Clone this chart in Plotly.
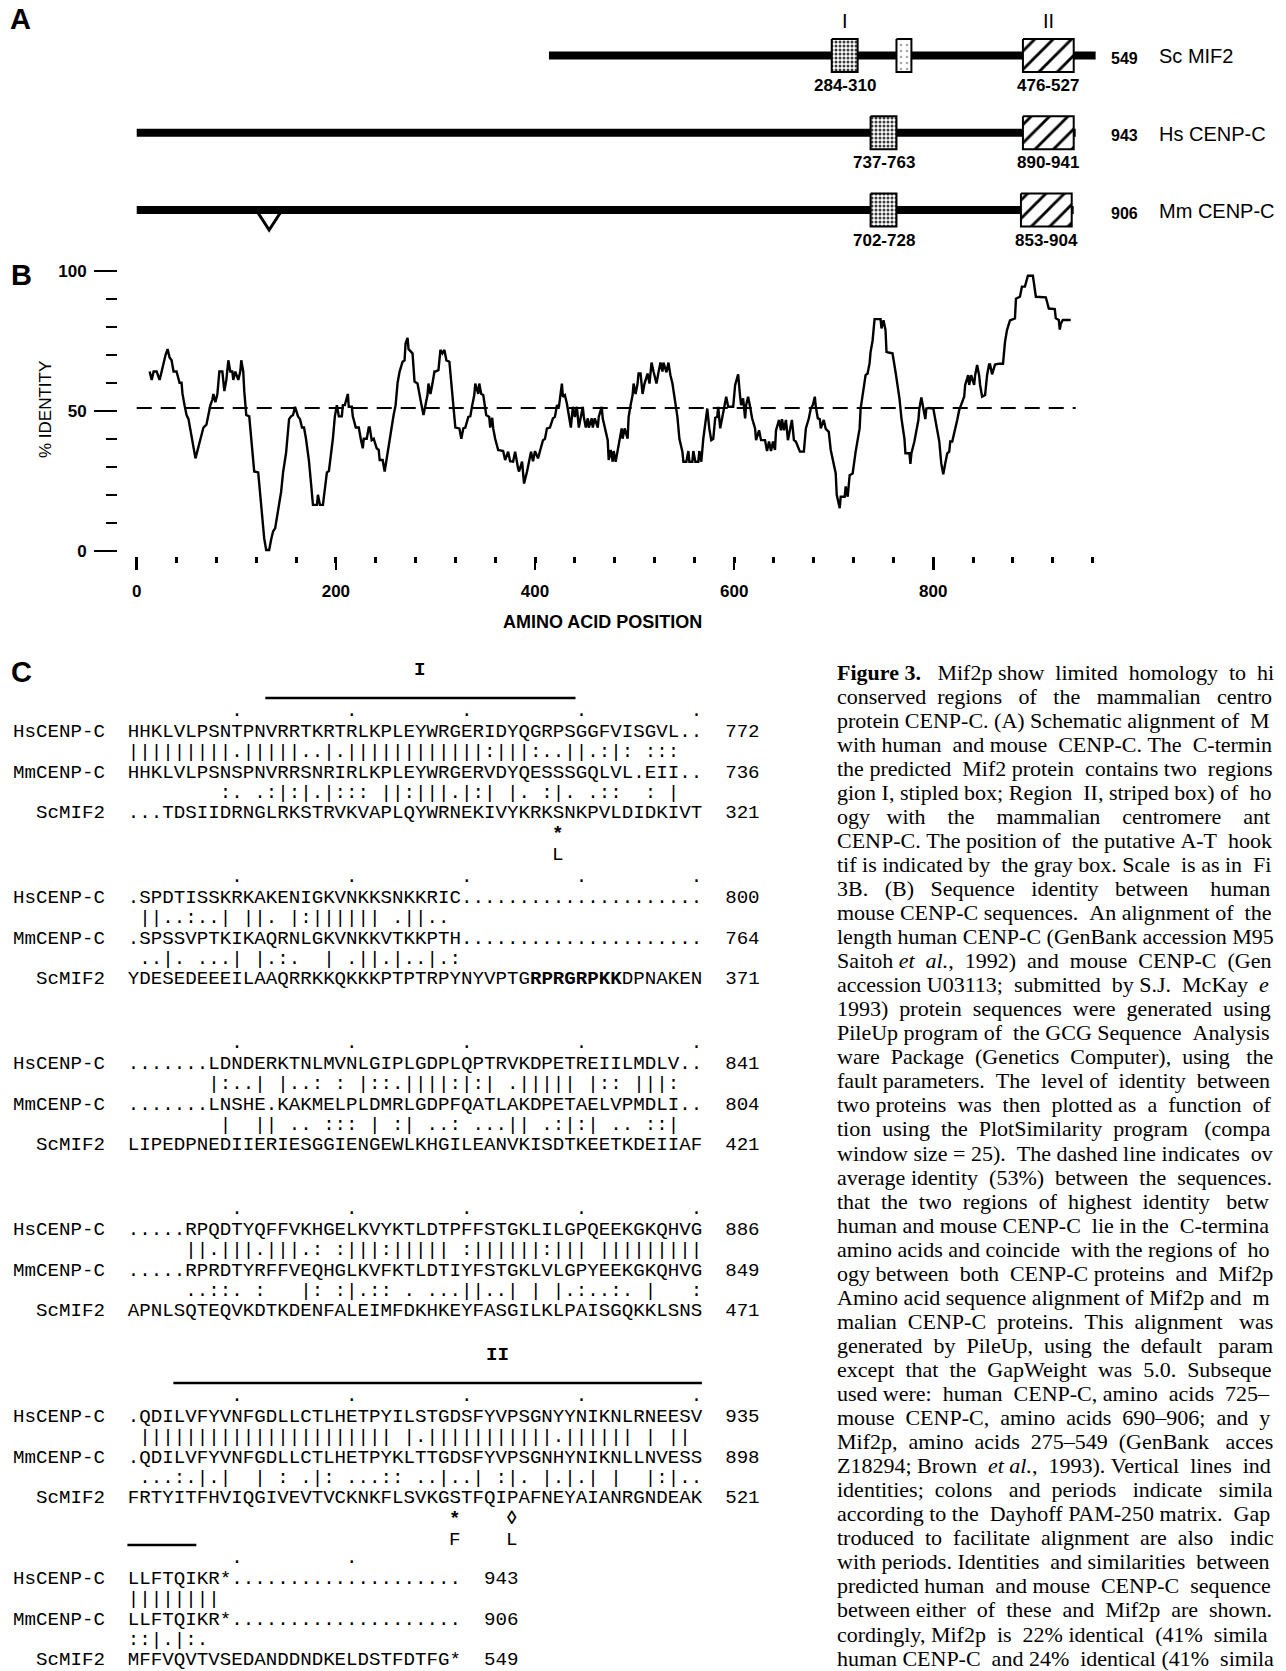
import re
import plotly.graph_objects as go

W, H = 1286, 1671

# ---------------- Panel A: schematic data ----------------
proteins = ["Sc MIF2", "Hs CENP-C", "Mm CENP-C"]
protein_lengths = [549, 943, 906]
protein_offsets = [414, 0, 35]          # shift onto the common (human) scale
backbone_starts = [414, 0, 0]
region1 = [(284, 310), (737, 763), (702, 728)]
region2 = [(476, 527), (890, 941), (853, 904)]
at_hook = (349, 364)                    # Sc MIF2 A-T hook (gray box)
mm_gap = (120, 146)                     # mouse deletion (V) on common scale

# ---------------- Panel B: identity profile ----------------
aa_position = [13, 15, 17, 20, 23, 25, 27, 29, 31, 33, 35, 37, 40, 43, 45, 46, 48, 50, 52, 54, 57, 59, 61, 63, 65,
               67, 70, 72, 74, 76, 77, 79, 81, 82, 83, 86, 88, 90, 92, 94, 96, 97, 99, 102, 104, 105, 107, 108, 110,
               113, 115, 118, 122, 125, 128, 130, 133, 135, 137, 139, 142, 145, 147, 150, 153, 155, 157, 159, 162,
               164, 166, 168, 170, 173, 177, 181, 182, 184, 187, 191, 193, 197, 199, 201, 203, 206, 207, 209, 212,
               213, 216, 217, 220, 223, 225, 227, 228, 231, 233, 234, 236, 238, 241, 243, 244, 247, 249, 251, 253,
               256, 258, 260, 262, 264, 267, 269, 270, 272, 273, 277, 279, 282, 284, 286, 288, 290, 292, 293, 295,
               297, 299, 300, 303, 305, 307, 309, 311, 314, 316, 318, 320, 324, 326, 328, 330, 333, 335, 337, 339,
               340, 343, 344, 346, 348, 351, 354, 355, 357, 358, 360, 363, 368, 370, 373, 375, 378, 380, 383, 384,
               387, 389, 392, 394, 396, 398, 400, 403, 405, 408, 410, 412, 415, 418, 420, 422, 424, 426, 427, 428,
               430, 432, 434, 436, 438, 440, 442, 444, 446, 448, 449, 451, 453, 454, 457, 458, 460, 463, 464, 467,
               468, 470, 473, 474, 476, 478, 479, 481, 483, 485, 487, 488, 490, 493, 494, 496, 498, 499, 501, 503,
               504, 506, 508, 510, 513, 515, 517, 519, 522, 524, 526, 528, 529, 532, 534, 536, 538, 540, 543, 545,
               548, 549, 552, 554, 555, 558, 559, 561, 564, 565, 567, 569, 572, 573, 575, 577, 579, 581, 583, 584,
               586, 588, 590, 592, 594, 599, 601, 604, 606, 607, 609, 611, 612, 614, 616, 618, 621, 622, 625, 627,
               631, 633, 635, 637, 639, 641, 642, 645, 647, 648, 650, 652, 654, 656, 658, 660, 662, 666, 670, 672,
               675, 677, 679, 681, 682, 684, 686, 687, 690, 692, 695, 697, 700, 702, 703, 706, 707, 711, 712, 714,
               716, 719, 722, 724, 726, 727, 729, 731, 732, 734, 736, 737, 739, 741, 744, 747, 748, 750, 752, 753,
               755, 759, 762, 764, 766, 768, 771, 772, 776, 777, 778, 781, 783, 785, 786, 788, 790, 792, 793, 796,
               800, 802, 804, 806, 808, 810, 812, 814, 816, 817, 819, 822, 824, 826, 828, 831, 832, 835, 836, 838,
               841, 842, 844, 846, 847, 849, 852, 854, 856, 857, 859, 862, 866, 870, 872, 874, 877, 882, 883, 887,
               889, 892, 895, 900, 903, 908, 913, 916, 918, 922, 923, 926, 927, 928, 930, 938]
pct_identity = [64, 61, 64, 64, 61, 64, 68, 70, 72, 69, 68, 64, 64, 60, 60, 56, 52, 48.5, 47, 42.5, 37, 33, 36, 39, 41,
                44, 45, 48.5, 52, 54, 56, 53, 56, 60, 64, 64, 57, 61, 68, 64, 64, 61, 64, 61, 64, 68, 64, 57, 48.5,
                48, 40, 28.3, 28, 16.4, 4.5, 0.3, 0.3, 4, 7, 8, 14, 21, 28, 35, 47, 48, 48.5, 51.4, 48,
                47, 44, 44, 40, 32, 16.4, 16.4, 20, 16.4, 16.4, 28, 28.5, 40, 48, 52, 48, 48, 52, 52, 56,
                51.4, 51.4, 48, 44, 44, 40, 36.6, 40, 40, 44, 44, 39.5, 40, 36.6, 36, 32.4, 32.4, 28.3, 33, 36.6,
                44, 48.5, 52, 60, 64, 67.5, 68, 74, 76, 72, 70.5, 60.4, 59.7, 55, 52, 48.5, 52, 55.6, 59.7, 56,
                59.7, 64, 64, 64.5, 71.7, 70.5, 71.7, 68, 67.5, 60.4, 52, 44, 43.7, 40, 43.7, 44, 47.8, 48, 52, 55.6,
                59.7, 56, 59.7, 56, 55.6, 48.5, 47.8, 44, 47.5, 43.7, 40, 36, 35.6, 32.4, 35.4, 32, 31.8, 35.4, 29.4, 28.3,
                31.8, 24, 28.3, 32.4, 35.4, 32, 35.6, 33, 35.6, 39.5, 40, 43.7, 44, 47.3, 47.8, 52, 51.4, 56, 59.7, 55,
                55.6, 52.6, 47.8, 44, 51.4, 47.8, 51.4, 44, 47.8, 51.4, 47.8, 44, 47.3, 44, 47.3, 44, 47.3, 44, 47.8, 51.4,
                47.3, 43.7, 39.5, 32.4, 36, 31.8, 35.6, 31.8, 36, 39.5, 43.7, 40, 43.7, 40, 47.8, 52, 55.6, 59.7, 56, 59.7,
                63.3, 63.3, 56, 59.7, 63.3, 59.7, 67.2, 64, 59.7, 63.7, 67.2, 64, 67.2, 63.7, 67.2, 62.7, 59.7, 55, 47.8, 40,
                35.4, 31.8, 31.8, 35.6, 31.8, 31.8, 35.6, 31.8, 31.8, 35.6, 31.8, 40, 47.8, 50.8, 43.7, 39.5, 40, 47.5, 47.8, 51.4,
                43.7, 47.8, 52, 55, 51.4, 51.4, 59.2, 63, 55, 52, 54.4, 47.3, 52, 55, 51.4, 47.3, 43.7, 39.5, 43, 39.5,
                39.5, 35.6, 39, 35.6, 39, 36, 43, 46.7, 43, 47, 43, 46.7, 39.5, 43, 46.7, 39.5, 39, 35.4, 35.4, 43.7,
                47.3, 50.8, 52, 55, 51.4, 47.3, 47, 43.7, 46.7, 43.5, 42.5, 36, 30.6, 27.6, 20, 15.2, 19.3, 19.3, 23, 19.3,
                27, 27.6, 35.4, 40, 43.7, 50.8, 55, 59.2, 62.7, 63.3, 67, 71, 75, 82.7, 82.7, 82.7, 79.4, 82.3, 78.8, 71,
                70.8, 70.5, 64, 59.2, 54.4, 47.3, 40, 34.8, 34.8, 31, 34.8, 39, 43, 46.7, 50.8, 54.7, 50.8, 47, 50.8, 51,
                50.8, 46.7, 43, 39, 31.2, 27.3, 31.2, 34.8, 35.4, 39, 39, 43, 46.7, 50.2, 52, 55, 59.2, 62.7, 59.2, 62.7,
                59.2, 62.7, 66.3, 62.7, 59.2, 55, 55.6, 62.7, 66.5, 66.5, 63, 66.5, 66.8, 66.8, 74.6, 78.8, 82.3, 83, 90, 90.7,
                94.3, 94.3, 98.2, 98.2, 90.7, 90.5, 90.5, 86.5, 86.5, 86.3, 83, 82.4, 79, 81, 82.4, 82.4]
avg_identity = 51
x_major_ticks = [0, 200, 400, 600, 800]
y_tick_labels = [0, 50, 100]

# ---------------- Panel C: alignment ----------------
seq_names = ["HsCENP-C", "MmCENP-C", "ScMIF2"]
hs_blocks = ["HHKLVLPSNTPNVRRTKRTRLKPLEYWRGERIDYQGRPSGGFVISGVL..",
             ".SPDTISSKRKAKENIGKVNKKSNKKRIC" + "." * 21,
             ".......LDNDERKTNLMVNLGIPLGDPLQPTRVKDPETREIILMDLV..",
             ".....RPQDTYQFFVKHGELKVYKTLDTPFFSTGKLILGPQEEKGKQHVG",
             ".QDILVFYVNFGDLLCTLHETPYILSTGDSFYVPSGNYYNIKNLRNEESV",
             "LLFTQIKR*" + "." * 20]
mm_blocks = ["HHKLVLPSNSPNVRRSNRIRLKPLEYWRGERVDYQESSSGQLVL.EII..",
             ".SPSSVPTKIKAQRNLGKVNKKVTKKPTH" + "." * 21,
             ".......LNSHE.KAKMELPLDMRLGDPFQATLAKDPETAELVPMDLI..",
             ".....RPRDTYRFFVEQHGLKVFKTLDTIYFSTGKLVLGPYEEKGKQHVG",
             ".QDILVFYVNFGDLLCTLHETPYKLTTGDSFYVPSGNHYNIKNLLNVESS",
             "LLFTQIKR*" + "." * 20]
sc_blocks = ["...TDSIIDRNGLRKSTRVKVAPLQYWRNEKIVYKRKSNKPVLDIDKIVT",
             "YDESEDEEEILAAQRRKKQKKKPTPTRPYNYVPTGRPRGRPKKDPNAKEN",
             "LIPEDPNEDIIERIESGGIENGEWLKHGILEANVKISDTKEETKDEIIAF",
             "APNLSQTEQVKDTKDENFALEIMFDKHKEYFASGILKLPAISGQKKLSNS",
             "FRTYITFHVIQGIVEVTVCKNKFLSVKGSTFQIPAFNEYAIANRGNDEAK",
             "MFFVQVTVSEDANDDNDKELDSTFDTFG*"]
hs_ends = [772, 800, 841, 886, 935, 943]
mm_ends = [736, 764, 804, 849, 898, 906]
sc_ends = [321, 371, 421, 471, 521, 549]
hs_mm_match = [
    "|||||||||" + "." + "|||||" + ".." + "|" + "." + "||||||||||||" + ":" + "|||" + ":" + ".." + "||" + "." + ":" + "|" + ":" + " " + ":::",
    " " + "||" + ".." + ":" + ".." + "|" + " " + "||" + "." + " " + "|" + ":" + "||||||" + " " + "." + "||" + "..",
    "       " + "|" + ":" + ".." + "|" + " " + "|" + ".." + ":" + " " + ":" + " " + "|" + "::" + "." + "||||" + ":" + "|" + ":" + "|" + " " + "." + "|||||" + " " + "|" + "::" + " " + "|||" + ":",
    "     " + "||" + "." + "|||" + "." + "|||" + "." + ":" + " " + ":" + "|||" + ":" + "|||||" + " " + ":" + "||||||" + ":" + "|||" + " " + "|||||||||",
    " " + "||||||||||||||||||||||" + " " + "|" + "." + "|||||||||||" + "." + "||||||" + " " + "|" + " " + "||",
    "||||||||"]
mm_sc_match = [
    "        " + ":." + " " + ".:|:|.|:::" + " " + "||:|||.|:|" + " " + "|." + " " + ":|." + " " + ".::" + "  " + ":" + " " + "|",
    " " + "..|." + " " + "...|" + " " + "|.:." + "  " + "|" + " " + ".||.|..|.:",
    "        " + "|" + "  " + "||" + " " + ".." + " " + ":::" + " " + "|" + " " + ":|" + " " + "..:" + " " + "...||" + " " + ".:|:|" + " " + ".." + " " + "::|",
    "     " + "..::." + " " + ":" + "   " + "|:" + " " + ":|.::" + " " + "." + " " + "...||..|" + " " + "|" + " " + "|.:..:." + " " + "|" + "   " + ":",
    " " + "...:.|.|" + "  " + "|" + " " + ":" + " " + ".|:" + " " + "...::" + " " + "..|..|" + " " + ":|." + " " + "|.|.|" + " " + "|" + "  " + "|:|..",
    "::|.|:."]
at_hook_motif = "RPRGRPKK"
hs_regions = [("I", 737, 763), ("II", 890, 941)]
sc_mutations = [(309, "*", "L"), (500, "*", "F"), (505, "\u25ca", "L")]

for blk in hs_blocks[:5] + mm_blocks[:5] + sc_blocks[:5]:
    assert len(blk) == 50, blk

# ---------------- Figure legend text ----------------
legend_lines = [
    "<b>Figure\u00a03.</b>\u00a0\u00a0\u00a0Mif2p show limited homology to hi",
    "conserved regions of the mammalian centro",
    "protein CENP-C. (A) Schematic alignment of M",
    "with human and mouse CENP-C. The C-termin",
    "the predicted Mif2 protein contains two regions",
    "gion I, stipled box; Region II, striped box) of ho",
    "ogy with the mammalian centromere ant",
    "CENP-C. The position of the putative A-T hook",
    "tif is indicated by the gray box. Scale is as in Fi",
    "3B. (B) Sequence identity between human",
    "mouse CENP-C sequences. An alignment of the",
    "length human CENP-C (GenBank accession M95",
    "Saitoh <i>et al.</i>, 1992) and mouse CENP-C (Gen",
    "accession U03113; submitted by S.J. McKay <i>e</i>",
    "1993) protein sequences were generated using",
    "PileUp program of the GCG Sequence Analysis",
    "ware Package (Genetics Computer), using the",
    "fault parameters. The level of identity between",
    "two proteins was then plotted as a function of",
    "tion using the PlotSimilarity program (compa",
    "window size = 25). The dashed line indicates ov",
    "average identity (53%) between the sequences.",
    "that the two regions of highest identity betw",
    "human and mouse CENP-C lie in the C-termina",
    "amino acids and coincide with the regions of ho",
    "ogy between both CENP-C proteins and Mif2p",
    "Amino acid sequence alignment of Mif2p and m",
    "malian CENP-C proteins. This alignment was",
    "generated by PileUp, using the default param",
    "except that the GapWeight was 5.0. Subseque",
    "used were: human CENP-C, amino acids 725\u2013",
    "mouse CENP-C, amino acids 690\u2013906; and y",
    "Mif2p, amino acids 275\u2013549 (GenBank acces",
    "Z18294; Brown <i>et al.</i>, 1993). Vertical lines ind",
    "identities; colons and periods indicate simila",
    "according to the Dayhoff PAM-250 matrix. Gap",
    "troduced to facilitate alignment are also indic",
    "with periods. Identities and similarities between",
    "predicted human and mouse CENP-C sequence",
    "between either of these and Mif2p are shown.",
    "cordingly, Mif2p is 22% identical (41% simila",
    "human CENP-C and 24% identical (41% simila",
]

# =====================================================================
SANS = "Liberation Sans"
MONO = "Liberation Mono"
SERIF = "Liberation Serif"
CW = 11.49                 # monospace character pitch (px)
MONO_SIZE = CW / 0.6
TEXT_X0 = 12.5
SEQ_X0 = TEXT_X0 + 10 * CW


def px(x):
    return x / W


def py(y):
    return 1 - y / H


fig = go.Figure()
ann = []
shapes = []


def add_text(text, x, y, size, family=SANS, xanchor="center", weight="normal", angle=0, yanchor="middle"):
    ann.append(dict(text=text, x=px(x), y=py(y), xref="paper", yref="paper", xanchor=xanchor, yanchor=yanchor,
                    showarrow=False, textangle=angle, borderpad=0, borderwidth=0,
                    font=dict(family=family, size=size, color="black", weight=weight)))


# ---------------- Panel A ----------------
ROW_A = 77.3               # px between schematic rows
ROW_A_TOP = 55.4           # px position of the first row
BOX_H = 16.5 / ROW_A
for i, name in enumerate(proteins):
    off = protein_offsets[i]
    fig.add_trace(go.Scatter(x=[backbone_starts[i], off + protein_lengths[i]], y=[i, i], mode="lines",
                             line=dict(color="black", width=8), xaxis="x2", yaxis="y2",
                             hoverinfo="skip", showlegend=False))
# mouse deletion V
fig.add_trace(go.Scatter(x=[mm_gap[0], (mm_gap[0] + mm_gap[1]) / 2, mm_gap[1]], y=[2, 2.26, 2], mode="lines",
                         line=dict(color="black", width=3), xaxis="x2", yaxis="y2", hoverinfo="skip",
                         showlegend=False))


def add_box(a, b, row, pattern):
    fig.add_trace(go.Scatter(x=[a, b, b, a, a], y=[row - BOX_H, row - BOX_H, row + BOX_H, row + BOX_H, row - BOX_H],
                             mode="lines", fill="toself", fillcolor="white", fillpattern=pattern,
                             line=dict(color="black", width=2), xaxis="x2", yaxis="y2",
                             hoverinfo="skip", showlegend=False))


stipple = dict(shape=".", fgcolor="#3a3a3a", bgcolor="white", size=4, solidity=0.45)
stripes = dict(shape="/", fgcolor="black", bgcolor="white", size=13, solidity=0.22)
light = dict(shape=".", fgcolor="#aaaaaa", bgcolor="white", size=6, solidity=0.15)

for i, name in enumerate(proteins):
    off = protein_offsets[i]
    r1 = (region1[i][0] + off, region1[i][1] + off)
    r2 = (region2[i][0] + off, region2[i][1] + off)
    add_box(*r1, i, stipple)
    add_box(*r2, i, stripes)
    for (a, b), (ra, rb) in [(r1, region1[i]), (r2, region2[i])]:
        ann.append(dict(text=f"{ra}-{rb}", x=(a + b) / 2, y=i, xref="x2", yref="y2", yshift=-30,
                        showarrow=False, xanchor="center", yanchor="middle",
                        font=dict(family=SANS, size=17, color="black", weight="bold")))
    if i == 0:
        add_box(at_hook[0] + off, at_hook[1] + off, i, light)
        for lab, (a, b) in [("I", r1), ("II", r2)]:
            ann.append(dict(text=lab, x=(a + b) / 2, y=i, xref="x2", yref="y2", yshift=34, showarrow=False,
                            xanchor="center", yanchor="middle", font=dict(family=SANS, size=20, color="black")))
    ann.append(dict(text=str(protein_lengths[i]), x=px(1124), y=i, xref="paper", yref="y2", yshift=-3,
                    showarrow=False, xanchor="center", yanchor="middle",
                    font=dict(family=SANS, size=16, color="black", weight="bold")))
    ann.append(dict(text=name, x=px(1157), y=i, xref="paper", yref="y2", yshift=-1, showarrow=False,
                    xanchor="left", yanchor="middle", font=dict(family=SANS, size=20, color="black")))

# ---------------- Panel B ----------------
fig.add_trace(go.Scatter(x=aa_position, y=pct_identity, mode="lines", line=dict(color="black", width=2.4),
                         xaxis="x", yaxis="y", hoverinfo="skip", showlegend=False))
fig.add_trace(go.Scatter(x=[0, protein_lengths[1]], y=[avg_identity, avg_identity], mode="lines",
                         line=dict(color="black", width=2, dash="15px,9px"), xaxis="x", yaxis="y",
                         hoverinfo="skip", showlegend=False))

add_text("% IDENTITY", 45, 410, 17, angle=-90)
add_text("AMINO ACID POSITION", 602, 622, 18, weight="bold")

# panel letters
add_text("A", 20, 19, 29, weight="bold")
add_text("B", 21, 275, 29, weight="bold")
add_text("C", 21, 672, 29, weight="bold")

# ---------------- Panel C ----------------
block_y = [731, 897, 1063, 1229, 1416, 1578]
ROW = 20.3


def mono(text, x, y, xanchor="left", bold=False):
    ann.append(dict(text=text.replace(" ", "\u00a0"), x=px(x), y=py(y + 1), xref="paper", yref="paper",
                    xanchor=xanchor, yanchor="middle", showarrow=False, borderpad=0, borderwidth=0,
                    font=dict(family=MONO, size=MONO_SIZE, color="black", weight="bold" if bold else "normal")))


def residue_col(blocks, ends, res):
    for b, (seq, end) in enumerate(zip(blocks, ends)):
        n = sum(ch.isalpha() for ch in seq)
        start = end - n + 1
        if start <= res <= end:
            k = -1
            for c, ch in enumerate(seq):
                if ch.isalpha():
                    k += 1
                    if k == res - start:
                        return b, c
    return None


for b in range(6):
    y0 = block_y[b]
    hs, mm, sc = hs_blocks[b], mm_blocks[b], sc_blocks[b]
    L = len(hs)
    dots = "".join("." if (c % 10 == 9) else " " for c in range(L)).rstrip()
    mono(" " * 10 + dots, TEXT_X0, y0 - 21.3)
    sc_txt = sc.replace(at_hook_motif, "<b>" + at_hook_motif + "</b>")
    rows = [(seq_names[0], hs, hs_ends[b]), (None, hs_mm_match[b], None), (seq_names[1], mm, mm_ends[b]),
            (None, mm_sc_match[b], None), (seq_names[2], sc_txt, sc_ends[b])]
    for k, (nm, s, num) in enumerate(rows):
        if nm is None:
            line = " " * 10 + s
        else:
            line = nm.rjust(8) + "  " + s + "  " + str(num)
        mono(line, TEXT_X0, y0 + k * ROW)

# mutation markers
for res, mark, aa in sc_mutations:
    b, c = residue_col(sc_blocks, sc_ends, res)
    xc = SEQ_X0 + (c + 0.5) * CW
    mono(mark, xc, block_y[b] + 4 * ROW + 20.5, xanchor="center", bold=True)
    mono(aa, xc, block_y[b] + 4 * ROW + 42, xanchor="center")

# region overlines
label_col = {"I": 25.5, "II": 32.2}
for lab, r0, r1 in hs_regions:
    b0, c0 = residue_col(hs_blocks, hs_ends, r0)
    b1, c1 = residue_col(hs_blocks, hs_ends, r1)
    for b in range(b0, b1 + 1):
        alpha = [c for c, ch in enumerate(hs_blocks[b]) if ch.isalpha()]
        cs = c0 if b == b0 else alpha[0]
        ce = c1 if b == b1 else alpha[-1]
        yl = block_y[b] - 33
        shapes.append(dict(type="line", xref="paper", yref="paper", x0=px(SEQ_X0 + cs * CW),
                           x1=px(SEQ_X0 + (ce + 1) * CW), y0=py(yl), y1=py(yl),
                           line=dict(color="black", width=2.5)))
    mono(lab, SEQ_X0 + label_col[lab] * CW, block_y[b0] - 62, xanchor="center", bold=True)

# ---------------- Legend text (justified) ----------------
TW = {" ": 250, "\u00a0": 250, "!": 333, "%": 833, "(": 333, ")": 333, "*": 500, ",": 250, "-": 333, ".": 250,
      "/": 278, ":": 278, ";": 278, "=": 564, "\u2013": 500}
TW.update({d: 500 for d in "0123456789"})
TW.update(dict(zip("ABCDEFGHIJKLMNOPQRSTUVWXYZ",
                   [722, 667, 667, 722, 611, 556, 722, 722, 333, 389, 722, 611, 889, 722, 722, 556, 722, 667, 556,
                    611, 722, 722, 944, 722, 722, 611])))
TW.update(dict(zip("abcdefghijklmnopqrstuvwxyz",
                   [444, 500, 444, 500, 444, 333, 500, 500, 278, 278, 500, 278, 778, 500, 500, 500, 500, 333, 389,
                    278, 500, 500, 722, 500, 500, 444])))
LEG_SIZE = 22
LEG_X0 = 837
LEG_END = 1274


def justify(line):
    plain = re.sub("<[^>]+>", "", line)
    natural = sum(TW.get(ch, 500) for ch in plain) / 1000 * LEG_SIZE
    words = line.split(" ")
    gaps = len(words) - 1
    if gaps == 0:
        return line
    sp = 0.25 * LEG_SIZE
    extra = max(0, int((LEG_END - LEG_X0 - natural) / sp))
    out = words[0]
    for g in range(gaps):
        n = 1 + (extra * (g + 1)) // gaps - (extra * g) // gaps
        out += "\u00a0" * n + words[g + 1]
    return out


for i, line in enumerate(legend_lines):
    add_text(justify(line), LEG_X0, 672 + i * 24.05, LEG_SIZE, family=SERIF, xanchor="left")

# ---------------- Layout ----------------
x_dom = [px(118), px(1100)]
x_rng = [-18.8, 967.4]
ya2_top = -ROW_A_TOP / ROW_A
ya2_bot = (250 - ROW_A_TOP) / ROW_A
fig.update_layout(
    width=W, height=H, margin=dict(l=0, r=0, t=0, b=0), template="none",
    paper_bgcolor="white", plot_bgcolor="white", showlegend=False, hovermode=False,
    xaxis=dict(domain=x_dom, range=x_rng, anchor="y", showgrid=False, zeroline=False, showline=False,
               tickmode="array", tickvals=x_major_ticks, ticktext=[str(v) for v in x_major_ticks],
               ticks="outside", ticklen=13, tickwidth=2.5, tickcolor="black", ticklabelstandoff=7,
               minor=dict(tickmode="linear", tick0=0, dtick=40, ticks="outside", ticklen=6, tickwidth=3,
                          tickcolor="black", showgrid=False),
               tickfont=dict(family=SANS, size=17, color="black", weight="bold")),
    yaxis=dict(domain=[py(556), py(269.3)], range=[-1.86, 100.5], anchor="x", showgrid=False, zeroline=False,
               showline=False, tickmode="array", tickvals=y_tick_labels, ticktext=[str(v) for v in y_tick_labels],
               ticks="outside", ticklen=23, tickwidth=2, tickcolor="black", ticklabelstandoff=4,
               minor=dict(tickmode="linear", tick0=0, dtick=10, ticks="outside", ticklen=11, tickwidth=2,
                          tickcolor="black", showgrid=False),
               tickfont=dict(family=SANS, size=17, color="black", weight="bold")),
    xaxis2=dict(domain=x_dom, range=x_rng, anchor="y2", visible=False),
    yaxis2=dict(domain=[py(250), 1], range=[ya2_bot, ya2_top], anchor="x2", visible=False),
    annotations=ann, shapes=shapes,
)

fig.write_html("out.html", config={"displayModeBar": False, "staticPlot": True},
               post_script="document.body.style.margin='0px';")
